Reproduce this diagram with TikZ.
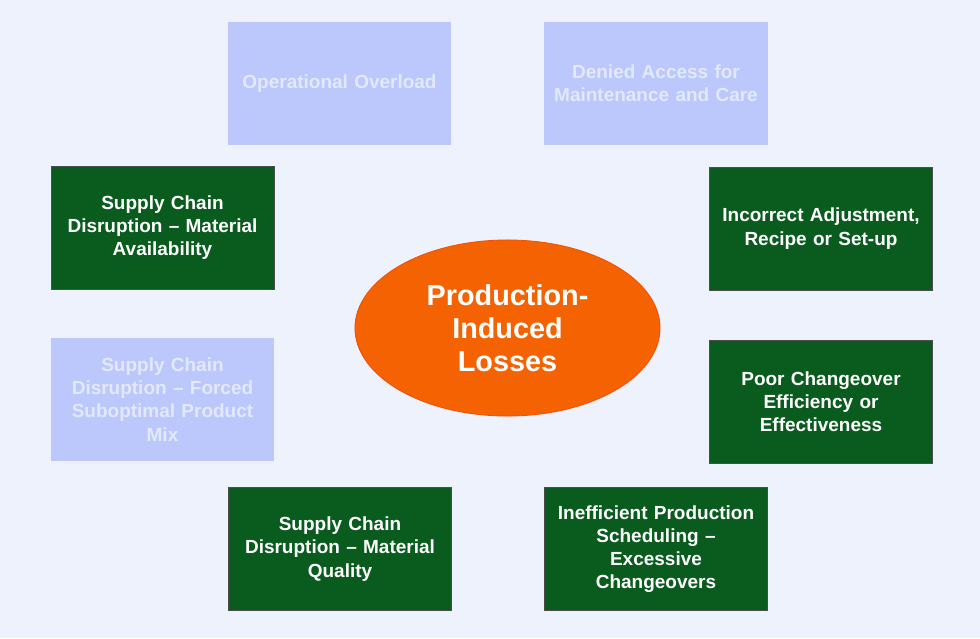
\documentclass[tikz,border=0pt]{standalone}
\usepackage{fontspec}
\setmainfont{Liberation Sans}
\usetikzlibrary{shapes.geometric, positioning}
\definecolor{page}{RGB}{238,242,253}
\definecolor{faded}{RGB}{188,200,251}
\definecolor{fadedtext}{RGB}{226,233,253}
\definecolor{cause}{RGB}{10,92,30}
\definecolor{core}{RGB}{244,98,2}
\begin{document}
\begin{tikzpicture}[
          x=0.025cm, y=-0.025cm,
          box/.style={rectangle, minimum width=5.575cm, minimum height=3.075cm,
                      text width=5.1cm, align=center, font=\bfseries\fontsize{13.5}{16.5}\selectfont},
          live/.style={box, fill=cause, draw=black!70, line width=0.5pt, text=white},
          dim/.style={box, fill=faded, draw=none, text=fadedtext},
          hub/.style={ellipse, fill=core, draw=core!80!red, line width=0.6pt,
                      minimum width=7.625cm, minimum height=4.4cm, text=white, align=center,
                      font=\bfseries\fontsize{20.5}{23.5}\selectfont}
        ]
        \fill[page] (0,0) rectangle (980,638);
        \useasboundingbox (0,0) rectangle (980,638);
        \node[hub] (losses) at (507.5,328) {Production-\\Induced\\Losses};
        \node[dim] (overload) at (339.5,83.5) {Operational Overload};
        \node[dim] (access) at (656,83.5) {Denied Access for\\Maintenance and Care};
        \node[live] (avail) at (162.5,227.5) {Supply Chain\\Disruption -- Material\\Availability};
        \node[live] (adjust) at (821,228.5) {Incorrect Adjustment,\\Recipe or Set-up};
        \node[dim] (mix) at (162.5,399.5) {Supply Chain\\Disruption -- Forced\\Suboptimal Product\\Mix};
        \node[live] (changeover) at (821,401.5) {Poor Changeover\\Efficiency or\\Effectiveness};
        \node[live] (quality) at (340,549) {Supply Chain\\Disruption -- Material\\Quality};
        \node[live] (schedule) at (656,549) {Inefficient Production\\Scheduling --\\Excessive\\Changeovers};
      \end{tikzpicture}
\end{document}
